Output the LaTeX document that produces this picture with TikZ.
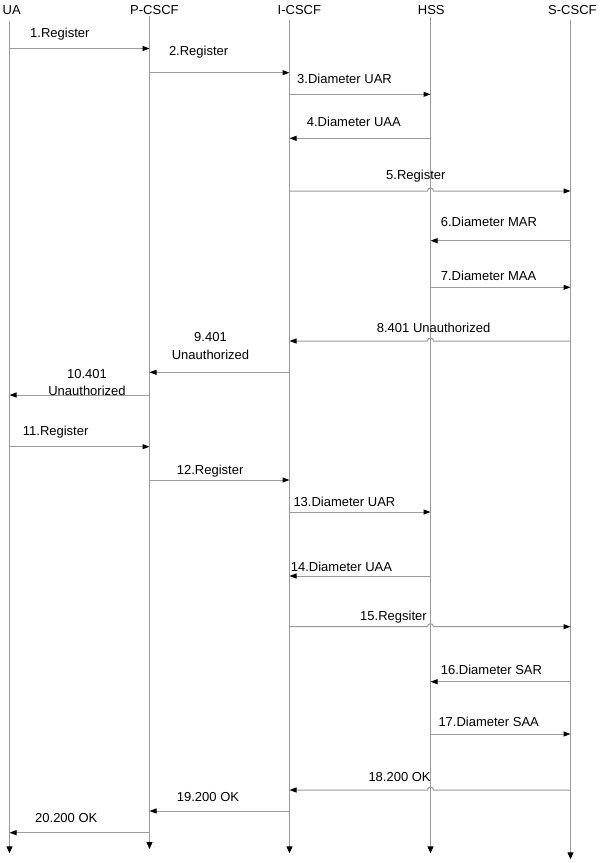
\documentclass[tikz,border=0pt]{standalone}
\usepackage{fontspec}
\setmainfont{Liberation Sans}
\usetikzlibrary{arrows.meta,calc}
\definecolor{linegray}{RGB}{155,155,155}
\begin{document}
\begin{tikzpicture}[x=1pt,y=-1pt,
  life/.style={draw=linegray, line width=1.1pt, -{Triangle[length=7pt,width=6pt,color=black]}},
  msg/.style={draw=linegray, line width=1pt, -{Triangle[length=7pt,width=5pt,color=black]}},
  lbl/.style={anchor=base west, inner sep=0pt, font=\fontsize{13}{15}\selectfont},
  clbl/.style={anchor=base, inner sep=0pt, font=\fontsize{13}{15}\selectfont}]
\fill[white] (0,0) rectangle (600,863);
\useasboundingbox (0,0) rectangle (600,863);
% headers
\node[lbl] (UA)   at (2.5,14.5) {UA};
\node[lbl] (PC)   at (130,14.5) {P-CSCF};
\node[lbl] (IC)   at (277.5,14.5) {I-CSCF};
\node[lbl] (HS)   at (417.7,14.5) {HSS};
\node[lbl] (SC)   at (548,14.5) {S-CSCF};
% lifelines
\coordinate (uaT) at (9.5,21);     \coordinate (uaB) at (9.5,853.3);
\coordinate (pcT) at (149.5,16);   \coordinate (pcB) at (149.5,849);
\coordinate (icT) at (289.5,20);   \coordinate (icB) at (289.5,853.3);
\coordinate (hsT) at (430.5,17);   \coordinate (hsB) at (430.5,853.3);
\coordinate (scT) at (570.5,20);   \coordinate (scB) at (570.5,859.3);
\foreach \l in {ua,pc,ic,hs,sc} {\draw[life] (\l T) -- (\l B);}
% straight messages
\foreach \n/\y/\a/\b in {1/48.5/ua/pc, 2/72.7/pc/ic, 3/94.3/ic/hs, 4/138.3/hs/ic,
    6/240.7/sc/hs, 7/287.3/hs/sc, 9/372.3/ic/pc, 10/395/pc/ua,
    11/446.7/ua/pc, 12/480/pc/ic, 13/512/ic/hs, 14/576/hs/ic,
    16/681.7/sc/hs, 17/734/hs/sc, 19/811/ic/pc, 20/832.7/pc/ua} {
  \coordinate (m\n a) at (\a T |- 0,\y);
  \coordinate (m\n b) at (\b T |- 0,\y);
  \draw[msg] (m\n a) -- (m\n b);
}
% messages jumping over the HSS lifeline
\foreach \n/\y/\a/\b/\s in {5/191/ic/sc/-3, 8/341/sc/ic/3, 15/626.7/ic/sc/-3, 18/790/sc/ic/3} {
  \coordinate (m\n a) at (\a T |- 0,\y);
  \coordinate (m\n b) at (\b T |- 0,\y);
  \coordinate (j\n a) at ($(hsT |- 0,\y)+(\s,0)$);
  \coordinate (j\n b) at ($(hsT |- 0,\y)+(-\s,0)$);
  \draw[msg] (m\n a) -- (j\n a) .. controls +(0,-4) and +(0,-4) .. (j\n b) -- (m\n b);
}
% labels
\node[lbl] (l1)  at (30,37.3)    {1.Register};
\node[lbl] (l2)  at (168.8,55)   {2.Register};
\node[lbl] (l3)  at (297,83.3)   {3.Diameter UAR};
\node[lbl] (l4)  at (306.7,126.7){4.Diameter UAA};
\node[lbl] (l5)  at (386,179.3)  {5.Register};
\node[lbl] (l6)  at (440.7,226)  {6.Diameter MAR};
\node[lbl] (l7)  at (440.7,280)  {7.Diameter MAA};
\node[lbl] (l8)  at (376.7,332.3){8.401 Unauthorized};
\node[clbl] (l9a) at (210.5,341.7) {9.401};
\node[clbl] (l9b) at (210.5,359.3) {Unauthorized};
\node[clbl] (l10a) at (87,378.3) {10.401};
\node[clbl] (l10b) at (87,395.7) {Unauthorized};
\node[lbl] (l11) at (22.7,435)   {11.Register};
\node[lbl] (l12) at (176.7,474)  {12.Register};
\node[lbl] (l13) at (293.3,506)  {13.Diameter UAR};
\node[lbl] (l14) at (290.7,571.7){14.Diameter UAA};
\node[lbl] (l15) at (360,620.7)  {15.Regsiter};
\node[lbl] (l16) at (440.7,674)  {16.Diameter SAR};
\node[lbl] (l17) at (438.3,726)  {17.Diameter SAA};
\node[lbl] (l18) at (368.3,781.7){18.200 OK};
\node[lbl] (l19) at (176.7,801.7){19.200 OK};
\node[lbl] (l20) at (35,822.7)   {20.200 OK};
\end{tikzpicture}
\end{document}
